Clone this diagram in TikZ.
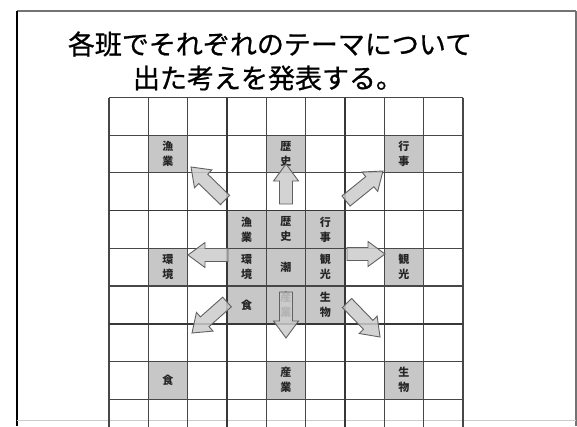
\documentclass[tikz,border=0pt]{standalone}
\usepackage{fontspec}
\newfontfamily\cjk{Noto Sans CJK JP}
\newfontfamily\cjkt[FakeBold=0.8]{Noto Sans CJK JP}
\usetikzlibrary{calc}
\tikzset{
  cellfill/.style={fill=black!22, draw=none, minimum width=39.33pt, minimum height=37.7pt, inner sep=0pt},
  celltext/.style={font=\cjk\bfseries\fontsize{11}{15}\selectfont, align=center, text=black!85, inner sep=0pt},
  titletext/.style={font=\cjkt\fontsize{27}{30}\selectfont, inner sep=0pt, text=black},
  gridline/.style={draw=black!72, line width=1.1pt},
  thickgrid/.style={draw=black!78, line width=1.7pt},
  barr/.style={fill=black!20, fill opacity=0.85, draw=black!62, line width=0.9pt, line join=miter},
}
\newcommand{\barrow}[2]{%
  \coordinate (hb) at ($(#2)!17pt!(#1)$);
  \draw[barr] ($(#1)!6.5pt!90:(#2)$) -- ($(hb)!6.5pt!-90:(#1)$) -- ($(hb)!12.5pt!-90:(#1)$)
     -- (#2) -- ($(hb)!12.5pt!90:(#1)$) -- ($(hb)!6.5pt!90:(#1)$) -- ($(#1)!6.5pt!-90:(#2)$) -- cycle;
}
\begin{document}
\begin{tikzpicture}[x=1pt,y=-1pt]
\useasboundingbox (0,0) rectangle (577,426);
\fill[white] (0,0) rectangle (577,426);
% frame
\draw[black!55, line width=1.6pt] (17,11) -- (576,11);
\draw[black, line width=2pt] (17,11) -- (17,426);
\draw[black!55, line width=1.2pt] (576,11) -- (576,426);
\draw[black!20, line width=0.8pt] (17,420) -- (576,420);
% title
\node[titletext] (t1) at (270,44) {各班でそれぞれのテーマについて};
\node[titletext] (t2) at (268,78) {出た考えを発表する。};
\begin{scope}
\clip (0,0) rectangle (577,426);
% gray cells
\foreach \c/\r/\t in {2/2/{漁\\業}, 5/2/{歴\\史}, 8/2/{行\\事}, 2/5/{環\\境}, 8/5/{観\\光}, 2/8/{食}, 5/8/{産\\業}, 8/8/{生\\物},
  4/4/{漁\\業}, 5/4/{歴\\史}, 6/4/{行\\事}, 4/5/{環\\境}, 5/5/{潮}, 6/5/{観\\光}, 4/6/{食}, 5/6/{産\\業}, 6/6/{生\\物}}{
  \node[cellfill] (c\c\r) at ({109+39.33*(\c-0.5)},{97.5+37.7*(\r-0.5)}) {};
  \node[celltext] (x\c\r) at (c\c\r) {\t};
}
% grid
\foreach \i in {0,1,2,4,5,7,8,9}{
  \draw[gridline] ({109+39.33*\i},97.5) -- ({109+39.33*\i},440);
  \draw[gridline] (109,{97.5+37.7*\i}) -- (463,{97.5+37.7*\i});
}
\foreach \i in {3,6}{
  \draw[thickgrid] ({109+39.33*\i},97.5) -- ({109+39.33*\i},440);
  \draw[thickgrid] (109,{97.5+37.7*\i}) -- (463,{97.5+37.7*\i});
}
\end{scope}
% arrows
\coordinate (nwA) at (225,200); \coordinate (nwB) at (191,167);
\coordinate (nA) at (286,204);  \coordinate (nB) at (286,164);
\coordinate (neA) at (346,201); \coordinate (neB) at (383,171);
\coordinate (wA) at (228,255);  \coordinate (wB) at (188,255);
\coordinate (eA) at (347,254);  \coordinate (eB) at (385,254);
\coordinate (swA) at (227,302); \coordinate (swB) at (192,333);
\coordinate (sA) at (286,292);  \coordinate (sB) at (286,338);
\coordinate (seA) at (347,303); \coordinate (seB) at (380,337);
\barrow{nwA}{nwB}
\barrow{nA}{nB}
\barrow{neA}{neB}
\barrow{wA}{wB}
\barrow{eA}{eB}
\barrow{swA}{swB}
\barrow{sA}{sB}
\barrow{seA}{seB}
\end{tikzpicture}
\end{document}
